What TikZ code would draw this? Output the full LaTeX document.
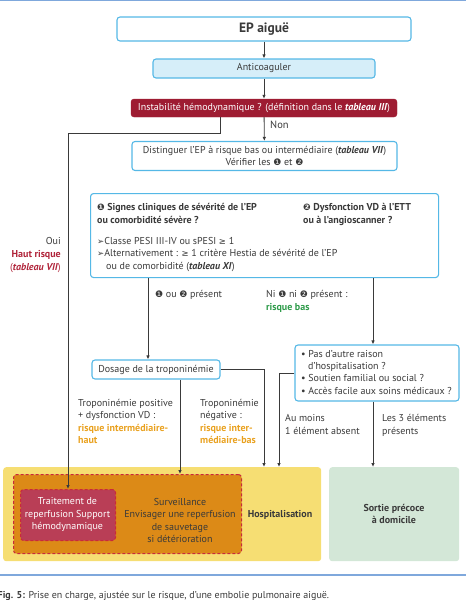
\documentclass[tikz,border=0pt]{standalone}
\usepackage{fontspec}
\setmainfont{PT Sans}
\newfontfamily\sym{DejaVu Sans}
\usetikzlibrary{arrows.meta}
\definecolor{bblue}{HTML}{55B8E6}
\definecolor{lblue}{HTML}{D6EEF9}
\definecolor{dred}{HTML}{9E1C32}
\definecolor{ouired}{HTML}{B0243A}
\definecolor{tgreen}{HTML}{2E9B4A}
\definecolor{torange}{HTML}{E9A11F}
\definecolor{hyellow}{HTML}{F6DE73}
\definecolor{orfill}{HTML}{DC8A17}
\definecolor{rbfill}{HTML}{B93E56}
\definecolor{dashred}{HTML}{C9283C}
\definecolor{gfill}{HTML}{D3E7D7}
\definecolor{tdark}{HTML}{3A3A3A}
\definecolor{lgray}{HTML}{3A3A3A}
\definecolor{rule}{HTML}{7FA8DC}
\begin{document}
\begin{tikzpicture}[x=1pt,y=-1pt,
  txt/.style={font=\fontsize{10}{12.5}\selectfont, text=tdark, inner sep=0pt},
  bluebox/.style={draw=bblue, line width=1.1pt, rounded corners=3pt, fill=white, inner sep=0pt, txt},
  redbox/.style={draw=dred, fill=dred, rounded corners=3pt, inner sep=0pt, txt, text=white},
  area/.style={rounded corners=3pt, inner sep=0pt, anchor=north west},
  dashbox/.style={draw=dashred, line width=1pt, dash pattern=on 3pt off 2pt, rounded corners=3pt, inner sep=0pt, anchor=north west},
  conn/.style={draw=lgray, line width=0.8pt, -{Latex[length=4pt,width=3.5pt]}},
  sy/.style={}]
\useasboundingbox (0,0) rectangle (466,600);
% rules
\draw[rule, line width=1.5pt] (0,0.5) -- (466,0.5);
\draw[rule, line width=1.5pt] (0,575) -- (466,575);
% top chain
\node[bluebox, minimum width=294pt, minimum height=24pt, font=\fontsize{13.5}{15}\selectfont\bfseries] (ep) at (264,29) {EP aiguë};
\node[bluebox, fill=lblue, minimum width=222pt, minimum height=19pt] (anti) at (264,68.5) {Anticoaguler};
\node[redbox, minimum width=266pt, minimum height=18pt] (inst) at (264,108) {Instabilité hémodynamique ? (définition dans le \textbf{\textit{tableau III}})};
\node[bluebox, minimum width=265pt, minimum height=29pt, align=center] (dist) at (264.5,156) {Distinguer l’EP à risque bas ou intermédiaire (\textbf{\textit{tableau VII}})\\Vérifier les {\sym\fontsize{9}{12.5}\selectfont❶} et {\sym\fontsize{9}{12.5}\selectfont❷}};
\node[txt, anchor=base west, font=\fontsize{10.5}{12}\selectfont] (non) at (270,128.5) {Non};
% criteria box
\node[bluebox, minimum width=348pt, minimum height=84pt, anchor=north west] (crit) at (90,193) {};
\node[txt, anchor=base west, align=left, font=\fontsize{10}{13}\selectfont\bfseries] (c1) at (97,223) {{\sym\fontsize{9}{13}\selectfont❶} Signes cliniques de sévérité de l’EP\\ou comorbidité sévère ?};
\node[txt, anchor=base west, align=left, font=\fontsize{10}{13}\selectfont\bfseries] (c2) at (303,223) {{\sym\fontsize{9}{13}\selectfont❷} Dysfonction VD à l’ETT\\ou à l’angioscanner ?};
\node[txt, anchor=base west, align=left] (c3) at (97,269) {{\sym\fontsize{8.5}{12.5}\selectfont ➢}Classe PESI III-IV ou sPESI {\sym\fontsize{8.5}{12.5}\selectfont ≥} 1\\{\sym\fontsize{8.5}{12.5}\selectfont ➢}Alternativement : {\sym\fontsize{8.5}{12.5}\selectfont ≥} 1 critère Hestia de sévérité de l’EP\\\hspace*{9pt}ou de comorbidité (\textbf{\textit{tableau XI}})};
% oui
\node[txt, anchor=base east, align=right, font=\fontsize{10}{13}\selectfont] (oui) at (61,270) {Oui\\\textcolor{ouired}{\textbf{Haut risque}}\\\textcolor{ouired}{(\textbf{\textit{tableau VII}})}};
% branch labels
\node[txt, anchor=base west] (l1) at (155,297.5) {{\sym\fontsize{9}{12.5}\selectfont❶} ou {\sym\fontsize{9}{12.5}\selectfont❷} présent};
\node[txt, anchor=base west, align=left] (l2) at (266,310) {Ni {\sym\fontsize{9}{12.5}\selectfont❶} ni {\sym\fontsize{9}{12.5}\selectfont❷} présent :\\\textcolor{tgreen}{\textbf{risque bas}}};
% dosage
\node[bluebox, minimum width=128pt, minimum height=19pt] (dos) at (156,369.5) {Dosage de la troponinémie};
% bullets
\node[bluebox, minimum width=164pt, minimum height=56pt] (bul) at (377,373) {};
\node[txt, anchor=base west, align=left, font=\fontsize{10}{12.2}\selectfont] (bt) at (301,394) {• Pas d’autre raison\\\hspace*{7pt}d’hospitalisation ?\\• Soutien familial ou social ?\\• Accès facile aux soins médicaux ?};
% tropo labels
\node[txt, anchor=base west, align=left] (tp) at (78,443.5) {Troponinémie positive\\+ dysfonction VD :\\\textcolor{torange}{\textbf{risque intermédiaire-}}\\\textcolor{torange}{\textbf{haut}}};
\node[txt, anchor=base west, align=left] (tn) at (200,443.5) {Troponinémie\\négative :\\\textcolor{torange}{\textbf{risque inter-}}\\\textcolor{torange}{\textbf{médiaire-bas}}};
\node[txt, anchor=base west, align=left] (am) at (285,434) {Au moins\\1 élément absent};
\node[txt, anchor=base west, align=left] (l3) at (382,434) {Les 3 éléments\\présents};
% bottom areas
\node[area, fill=hyellow, minimum width=318pt, minimum height=94pt] (hosp) at (3,467) {};
\node[dashbox, fill=orfill, minimum width=228pt, minimum height=79pt] (orng) at (13,474) {};
\node[dashbox, fill=rbfill, minimum width=95pt, minimum height=51pt] (redb) at (20,489) {};
\node[txt, text=white, align=center] (redt) at (67.5,514.5) {Traitement de\\reperfusion Support\\hémodynamique};
\node[txt, text=tdark, align=center] (orgt) at (180,520.5) {Surveillance\\Envisager une reperfusion\\de sauvetage\\si détérioration};
\node[txt, font=\fontsize{10}{12.5}\selectfont\bfseries] (hospt) at (280,514.5) {Hospitalisation};
\node[area, fill=gfill, minimum width=130pt, minimum height=94pt] (green) at (329,467) {};
\node[txt, align=center, font=\fontsize{10}{12.5}\selectfont\bfseries] (gt) at (394,514) {Sortie précoce\\à domicile};
% caption
\node[txt, anchor=base west] (cap) at (-2.5,598) {\textbf{Fig. 5:} Prise en charge, ajustée sur le risque, d’une embolie pulmonaire aiguë.};
% connectors
\draw[conn] (ep) -- (anti);
\draw[conn] (anti) -- (inst);
\draw[conn] (inst) -- (dist);
\coordinate (bend) at (68,133);
\draw[conn] (inst.south -| 220,0) |- (bend) -- (redb.north -| bend);
\draw[conn] (crit.south -| 148,0) -- (dos.north -| 148,0);
\draw[conn] (crit.south -| 373,0) -- (bul.north -| 373,0);
\draw[conn] (dos.south -| 180,0) -- (orng.north -| 180,0);
\draw[conn] (dos.east) -| (hosp.north -| 264,0);
\draw[conn] (bul.west) -| (hosp.north -| 279,0);
\draw[conn] (bul.south -| 373,0) -- (green.north -| 373,0);
\end{tikzpicture}
\end{document}
